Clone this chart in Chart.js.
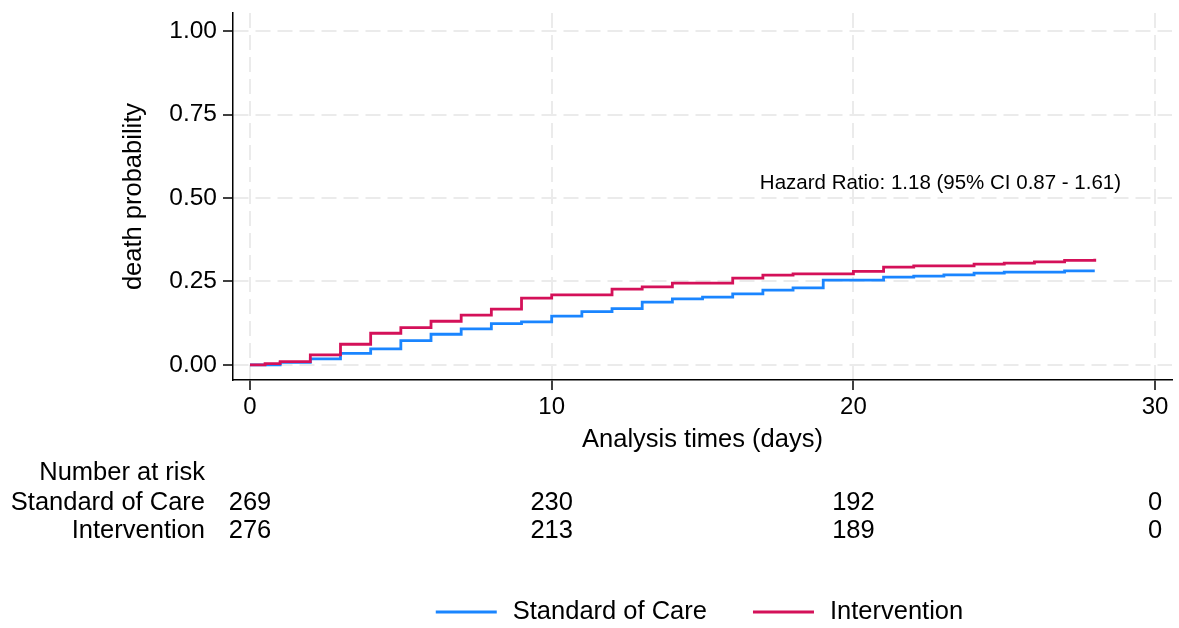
<!DOCTYPE html>
<html>
<head>
<meta charset="utf-8">
<script src="https://cdn.jsdelivr.net/npm/chart.js@4.4.1/dist/chart.umd.min.js"></script>
<style>
html,body{margin:0;padding:0;background:#fff;}
#wrap{width:1179px;height:628px;}
</style>
</head>
<body>
<div id="wrap"><canvas id="c" width="1179" height="628"></canvas></div>
<script>
// ---- data ----
const seriesNames = ['Standard of Care', 'Intervention'];
const socTimes = [0,1,2,3,4,5,6,7,8,9,10,11,12,13,14,15,16,17,18,19,20,21,22,23,24,25,26,27,28];
const socRisk  = [0,0.008,0.018,0.035,0.048,0.073,0.092,0.108,0.124,0.129,0.146,0.160,0.169,0.188,0.198,0.203,0.213,0.224,0.231,0.254,0.254,0.263,0.266,0.270,0.275,0.278,0.278,0.282,0.282];
const intTimes = [0,0.5,1,2,3,4,5,6,7,8,9,10,11,12,13,14,15,16,17,18,19,20,21,22,23,24,25,26,27,28];
const intRisk  = [0,0.004,0.010,0.030,0.062,0.095,0.112,0.131,0.149,0.167,0.200,0.210,0.210,0.227,0.234,0.245,0.245,0.260,0.269,0.273,0.273,0.280,0.293,0.297,0.297,0.302,0.305,0.309,0.313,0.318];
const xTickValues = [0,10,20,30];
const yTickValues = [0,0.25,0.5,0.75,1];
const riskTimes = [0,10,20,30];
const socAtRisk = [269,230,192,0];
const intAtRisk = [276,213,189,0];
const riskTitle = 'Number at risk';
const hazardText = 'Hazard Ratio: 1.18 (95% CI 0.87 - 1.61)';
const xTitle = 'Analysis times (days)';
const yTitle = 'death probability';

// ---- styles ----
const FONT = '"Liberation Sans", Arial, sans-serif';
const BLUE = 'rgb(26,133,255)';
const RED = 'rgb(212,17,89)';
const GRID = '#ebebeb';

const toPoints = (ts, vs) => ts.map((t, i) => ({x: t, y: vs[i]}));

const extras = {
  id: 'extras',
  afterDraw(chart) {
    const {ctx, scales: {x, y}, chartArea} = chart;
    ctx.save();
    ctx.fillStyle = '#000';
    // hazard ratio annotation
    ctx.font = '20.5px ' + FONT;
    ctx.textAlign = 'left';
    ctx.textBaseline = 'middle';
    ctx.fillText(hazardText, x.getPixelForValue(16.9), y.getPixelForValue(0.545));

    // number at risk table
    ctx.font = '25.5px ' + FONT;
    ctx.textAlign = 'right';
    const labX = 205;
    ctx.fillText(riskTitle, labX, 473);
    ctx.fillText(seriesNames[0], labX, 503);
    ctx.fillText(seriesNames[1], labX, 531);
    ctx.textAlign = 'center';
    riskTimes.forEach((t, i) => {
      const px = x.getPixelForValue(t);
      ctx.fillText(String(socAtRisk[i]), px, 503);
      ctx.fillText(String(intAtRisk[i]), px, 531);
    });

    // legend
    const lineW = 61, gapA = 16, gapB = 46, ly = 612;
    const w0 = ctx.measureText(seriesNames[0]).width;
    const w1 = ctx.measureText(seriesNames[1]).width;
    const total = lineW + gapA + w0 + gapB + lineW + gapA + w1;
    let sx = (chartArea.left + chartArea.right) / 2 - 3 - total / 2;
    const cols = [BLUE, RED];
    [w0, w1].forEach((w, i) => {
      ctx.strokeStyle = cols[i];
      ctx.lineWidth = 3;
      ctx.beginPath();
      ctx.moveTo(sx, ly);
      ctx.lineTo(sx + lineW, ly);
      ctx.stroke();
      sx += lineW + gapA;
      ctx.textAlign = 'left';
      ctx.fillText(seriesNames[i], sx, ly);
      sx += w + gapB;
    });
    ctx.restore();
  }
};

const axisCommon = {
  type: 'linear',
  grid: {color: GRID, lineWidth: 2, drawTicks: true, tickLength: 10, tickColor: '#000', tickWidth: 1.5, tickBorderDash: []},
  border: {display: true, color: '#000', width: 1.5, dash: [15, 7]},
};

new Chart(document.getElementById('c'), {
  type: 'line',
  data: {
    datasets: [
      {label: seriesNames[0], data: toPoints(socTimes, socRisk), borderColor: BLUE, backgroundColor: BLUE,
       borderWidth: 2.8, stepped: 'before', pointRadius: 0, fill: false, order: 2},
      {label: seriesNames[1], data: toPoints(intTimes, intRisk), borderColor: RED, backgroundColor: RED,
       borderWidth: 2.8, stepped: 'before', pointRadius: 0, fill: false, order: 1}
    ]
  },
  options: {
    responsive: false,
    animation: false,
    devicePixelRatio: 1,
    layout: {padding: {left: 121, top: 13, right: 7, bottom: 175}},
    plugins: {legend: {display: false}, tooltip: {enabled: false}},
    scales: {
      x: Object.assign({}, axisCommon, {
        min: -0.563, max: 30.56,
        afterBuildTicks: s => { s.ticks = xTickValues.map(v => ({value: v})); },
        afterFit: s => { s.height = 73; s.paddingLeft = 0; s.paddingRight = 0; },
        ticks: {color: '#000', font: {family: FONT, size: 24}, padding: 3, maxRotation: 0, autoSkip: false},
        title: {display: true, text: xTitle, color: '#000', font: {family: FONT, size: 25.5, lineHeight: 1}, padding: 0}
      }),
      y: Object.assign({}, axisCommon, {
        min: -0.045, max: 1.054,
        afterBuildTicks: s => { s.ticks = yTickValues.map(v => ({value: v})); },
        afterFit: s => { s.width = 112; s.paddingTop = 0; s.paddingBottom = 0; },
        ticks: {color: '#000', font: {family: FONT, size: 24.5}, padding: 6, autoSkip: false, callback: v => Number(v).toFixed(2)},
        title: {display: true, text: yTitle, color: '#000', font: {family: FONT, size: 25.5, lineHeight: 1}, padding: 0}
      })
    }
  },
  plugins: [extras]
});
</script>
</body>
</html>
